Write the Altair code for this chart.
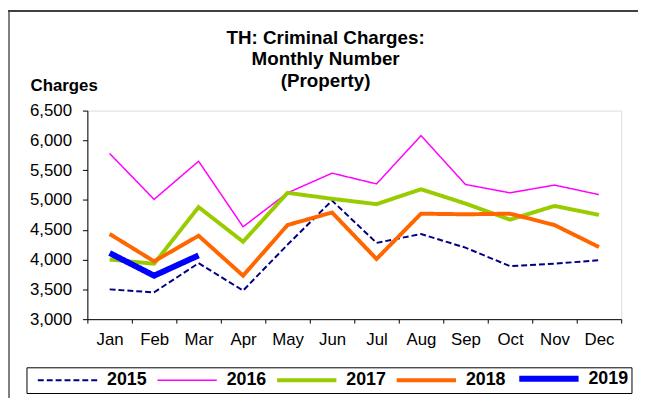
import altair as alt
import pandas as pd

months = ["Jan", "Feb", "Mar", "Apr", "May", "Jun", "Jul", "Aug", "Sep", "Oct", "Nov", "Dec"]
years = ["2015", "2016", "2017", "2018", "2019"]
v2015 = [3500, 3450, 3940, 3480, 4250, 4990, 4280, 4430, 4200, 3890, 3930, 3990]
v2016 = [5780, 5010, 5650, 4550, 5120, 5450, 5270, 6080, 5260, 5120, 5250, 5090]
v2017 = [4000, 3930, 4880, 4300, 5120, 5020, 4930, 5180, 4940, 4670, 4900, 4750]
v2018 = [4430, 3970, 4400, 3730, 4580, 4790, 4010, 4770, 4760, 4770, 4580, 4210]
v2019 = [4110, 3730, 4070]
y_ticks = [3000, 3500, 4000, 4500, 5000, 5500, 6000, 6500]

colors = ["#000080", "#FF00FF", "#99CC00", "#FF6600", "#0000FF"]
widths = [2, 1.5, 4, 4, 6]
dashes = [[6, 3], [1, 0], [1, 0], [1, 0], [1, 0]]

series = [v2015, v2016, v2017, v2018, v2019]
rows = []
for yr, vals, w in zip(years, series, widths):
    for m, v in zip(months, vals):
        rows.append({"month": m, "year": yr, "value": v, "w": w})
df = pd.DataFrame(rows)

FONT = "Liberation Sans"

width_expr = ("datum.value == '2019' ? 6 : (datum.value == '2017' || datum.value == '2018') ? 4 : "
              "datum.value == '2015' ? 2 : 1.5")

legend = alt.Legend(
    title=None, orient="none", legendX=-61.6, legendY=259.7,
    direction="horizontal", columns=5, symbolType="M-3,0H3", symbolSize=400,
    symbolOffset=30, padding=2.5, columnPadding=1, labelOffset=31,
    labelFontSize=18, labelFontWeight="bold", labelFont=FONT, labelColor="black",
    strokeColor="black", symbolStrokeWidth=alt.ExprRef(expr=width_expr),
)

lines = alt.Chart(df).mark_line().encode(
    x=alt.X("month:N", sort=months, bandPosition=0.5,
            scale=alt.Scale(type="band", domain=months, paddingInner=0, paddingOuter=0),
            axis=alt.Axis(title=None, tickBand="extent", labelAngle=0, labelFontSize=17,
                          labelFont=FONT, labelColor="black", labelPadding=9, tickSize=4,
                          tickColor="black", domainColor="black", grid=False)),
    y=alt.Y("value:Q", scale=alt.Scale(domain=[3000, 6500], nice=False, zero=False),
            axis=alt.Axis(values=y_ticks, format=",d", title="Charges", titleAngle=0,
                          titleAlign="left", titleBaseline="alphabetic", titleX=-58, titleY=-20,
                          titleFontSize=17, titleFontWeight="bold", titleFont=FONT,
                          titleColor="black", labelFontSize=17, labelFont=FONT,
                          labelColor="black", labelPadding=11, tickSize=5,
                          tickColor="black", domainColor="black", grid=False)),
    color=alt.Color("year:N", scale=alt.Scale(domain=years, range=colors), legend=legend),
    strokeDash=alt.StrokeDash("year:N", scale=alt.Scale(domain=years, range=dashes), legend=legend),
    strokeWidth=alt.StrokeWidth("w:Q", scale=None, legend=None),
)

frame_left = alt.Chart(df).mark_rule(color="#808080", strokeWidth=1.5).encode(
    x=alt.value(-79.5), y=alt.value(-101), y2=alt.value(290))
frame_top = alt.Chart(df).mark_rule(color="#404040", strokeWidth=1.5).encode(
    x=alt.value(-80), x2=alt.value(558), y=alt.value(-100.5))

chart = alt.layer(frame_left, frame_top, lines).properties(
    width=540, height=211,
    title=alt.TitleParams(
        text=["TH: Criminal Charges:", "Monthly Number", "(Property)"],
        fontSize=19, fontWeight="bold", font=FONT, color="black",
        anchor="middle", dx=-29, dy=86, lineHeight=22, offset=4),
    padding={"left": 80.3, "top": 101.5, "right": 17, "bottom": 80},
    autosize=alt.AutoSizeParams(type="none"),
).configure_view(stroke=None).configure(background="white")

chart.save("out.html", embed_options={"renderer": "svg", "actions": False})
